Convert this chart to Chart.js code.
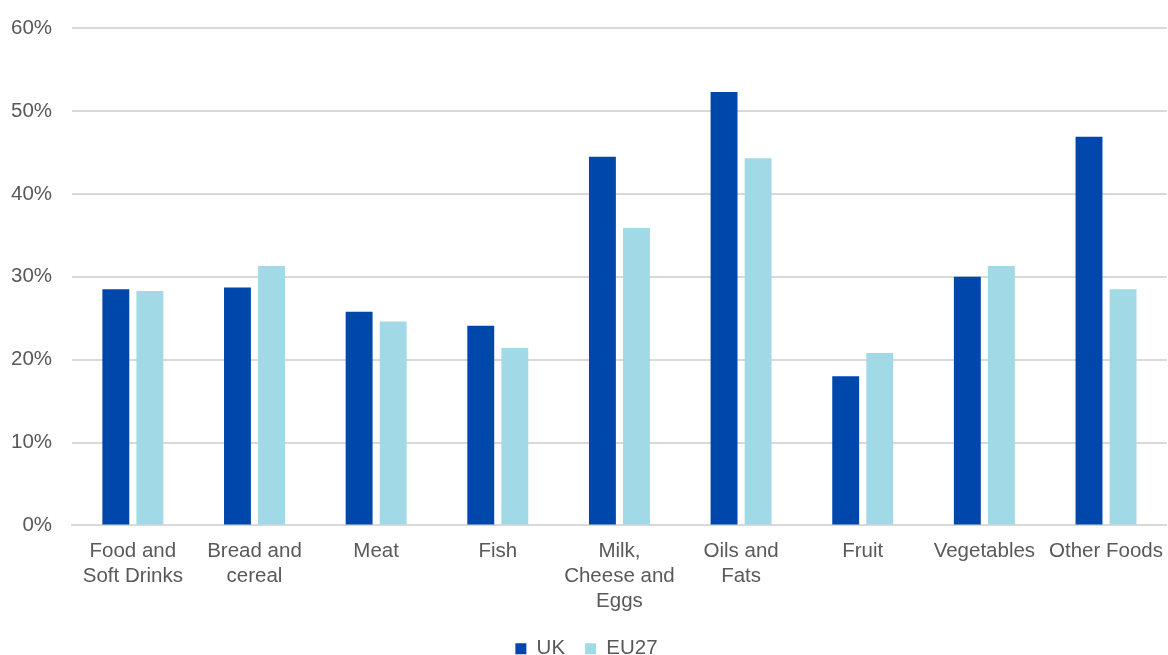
<!DOCTYPE html>
<html>
<head>
<meta charset="utf-8">
<script src="https://cdn.jsdelivr.net/npm/chart.js@4"></script>
<style>
    html, body { margin: 0; padding: 0; background: #ffffff; }
    #wrap { width: 1168px; height: 655px; }
</style>
</head>
<body>
<div id="wrap"><canvas id="foodChart" width="1168" height="655"></canvas></div>
<script>
const categories = [
    ['Food and', 'Soft Drinks'],
    ['Bread and', 'cereal'],
    'Meat',
    'Fish',
    ['Milk,', 'Cheese and', 'Eggs'],
    ['Oils and', 'Fats'],
    'Fruit',
    'Vegetables',
    'Other Foods'
];
const ukValues = [28.5, 28.7, 25.8, 24.1, 44.5, 52.3, 18.0, 30.0, 46.9];
const eu27Values = [28.3, 31.3, 24.6, 21.4, 35.9, 44.3, 20.8, 31.3, 28.5];
const yTicks = [0, 10, 20, 30, 40, 50, 60];

const textColor = '#595959';
const fontFamily = '"Liberation Sans", Arial, sans-serif';

const ctx = document.getElementById('foodChart').getContext('2d');
const foodChart = new Chart(ctx, {
    type: 'bar',
    data: {
        labels: categories,
        datasets: [{
            label: 'UK',
            backgroundColor: '#0047AB',
            data: ukValues
        }, {
            label: 'EU27',
            backgroundColor: '#A1D9E6',
            data: eu27Values
        }]
    },
    options: {
        responsive: false,
        animation: false,
        layout: {
            padding: { top: 0, right: -14, left: -9, bottom: -14 }
        },
        datasets: {
            bar: {
                categoryPercentage: 0.56,
                barPercentage: 0.79
            }
        },
        plugins: {
            legend: {
                position: 'bottom',
                labels: {
                    color: textColor,
                    boxWidth: 11,
                    boxHeight: 11,
                    padding: 20,
                    font: { family: fontFamily, size: 20.5 }
                }
            },
            tooltip: { enabled: false }
        },
        scales: {
            x: {
                grid: { display: false },
                border: { color: '#d9d9d9', width: 2 },
                ticks: {
                    color: textColor,
                    maxRotation: 0,
                    autoSkip: false,
                    padding: 5,
                    font: { family: fontFamily, size: 20.5, lineHeight: 1.22 }
                }
            },
            y: {
                min: 0,
                max: 60,
                afterBuildTicks: (axis) => {
                    axis.ticks = yTicks.map(v => ({ value: v }));
                },
                grid: { color: '#d9d9d9', lineWidth: 2, drawTicks: false },
                border: { display: false },
                ticks: {
                    color: textColor,
                    padding: 20,
                    font: { family: fontFamily, size: 20.5, lineHeight: 0.8 },
                    callback: (v) => v + '%'
                }
            }
        }
    }
});
</script>
</body>
</html>
